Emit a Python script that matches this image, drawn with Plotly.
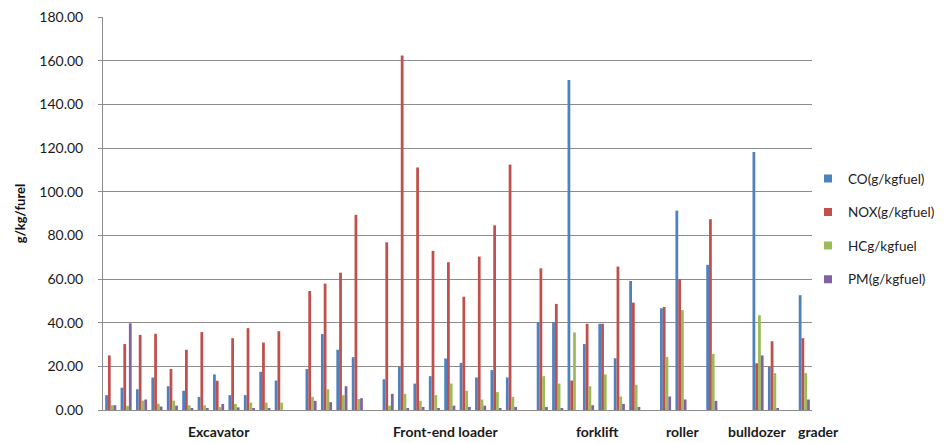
import plotly.graph_objects as go

# ---- data (one value per machine slot; None = empty slot) ----
machine_group = (["Excavator"] * 12 + [""] + ["Front-end loader"] * 4 + [""] +
                 ["Front-end loader"] * 9 + [""] + ["forklift"] * 7 + [""] +
                 ["roller"] * 2 + [""] + ["roller"] + ["", ""] +
                 ["bulldozer"] * 2 + [""] + ["grader"])

co = [6.8, 10.2, 9.5, 14.9, 10.9, 8.8, 6.0, 16.3, 6.8, 6.8, 17.5, 13.5, None,
      18.8, 34.8, 27.6, 24.2, None,
      14.1, 19.8, 12.1, 15.5, 23.6, 21.6, 14.9, 18.3, 14.9, None,
      40.3, 40.3, 151.2, 30.2, 39.5, 23.7, 59.1, None,
      46.6, 91.3, None, 66.5, None, None,
      118.2, 19.8, None, 52.6]
nox = [25.0, 30.2, 34.4, 34.9, 18.8, 27.6, 35.7, 13.4, 32.9, 37.5, 30.9, 36.1, None,
       54.5, 57.9, 62.9, 89.4, None,
       76.8, 162.4, 111.1, 72.9, 67.7, 51.9, 70.3, 84.6, 112.4, None,
       64.9, 48.6, 13.5, 39.5, 39.5, 65.7, 49.2, None,
       47.2, 59.9, None, 87.4, None, None,
       21.4, 31.5, None, 32.9]
hc = [2.2, 1.9, 4.3, 2.9, 4.3, 2.2, 2.2, 1.4, 2.8, 3.4, 3.4, 3.4, None,
      6.0, 9.5, 6.8, 5.0, None,
      2.0, 7.4, 4.2, 6.8, 12.1, 8.8, 4.8, 8.2, 6.0, None,
      15.5, 12.1, 35.5, 10.9, 16.3, 6.2, 11.6, None,
      24.3, 45.8, None, 25.7, None, None,
      43.4, 16.9, None, 16.9]
pm = [2.2, 39.7, 4.8, 1.6, 2.0, 0.8, 0.9, 2.8, 1.2, 0.8, 0.8, 0.0, None,
      4.2, 3.6, 10.9, 5.4, None,
      7.4, 0.8, 1.4, 0.8, 2.0, 1.4, 2.0, 0.8, 1.4, None,
      1.4, 0.8, 0.0, 2.2, 0.0, 2.8, 1.4, None,
      6.2, 4.8, None, 4.2, None, None,
      25.0, 0.8, None, 4.8]

series_names = ["CO(g/kgfuel)", "NOX(g/kgfuel)", "HCg/kgfuel", "PM(g/kgfuel)"]
group_labels = ["Excavator", "Front-end loader", "forklift", "roller", "bulldozer", "grader"]

# ---- layout / style (kept separate from data) ----
colors = ["#4F81BD", "#C0504D", "#9BBB59", "#8064A2"]
label_slot = [7.0, 21.7, 31.6, 37.1, 41.9, 45.9]

n = len(machine_group)
x = list(range(n))

fig = go.Figure()
for name, vals, col in zip(series_names, [co, nox, hc, pm], colors):
    fig.add_bar(x=x, y=vals, name=name, marker_color=col, marker_line_width=0,
                legendgroup=name, showlegend=False)
    # legend proxy with a small square swatch, as in the reference
    fig.add_scatter(x=[None], y=[None], mode="markers", name=name,
                    legendgroup=name, showlegend=True,
                    marker=dict(symbol="square", size=8, color=col))

# The page body has an 8px margin, so the figure is drawn 8px in from the
# window's top-left corner; size and margins account for that.
OFF = 8
W, H = 944 - OFF, 443 - OFF
ml, mt = 103 - OFF, 17 - OFF
mr = W - (812 - OFF)
mb = H - (410 - OFF)
pw = W - ml - mr
ph = H - mt - mb

def px_x(p):          # window pixel -> paper x
    return (p - OFF - ml) / pw

def px_y(p):          # window pixel -> paper y
    return (H - mb - (p - OFF)) / ph

annotations = [
    dict(x=(s + 0.5) / n, y=px_y(431), xref="paper", yref="paper",
         text=f"<b>{t}</b>", showarrow=False, yanchor="middle", xanchor="center",
         font=dict(family="Lato", size=14, color="#1a1a1a"))
    for t, s in zip(group_labels, label_slot)
]

fig.update_layout(
    width=W, height=H,
    margin=dict(l=ml, r=mr, t=mt, b=mb, autoexpand=False),
    paper_bgcolor="white", plot_bgcolor="white",
    font=dict(family="Lato", size=14, color="#222222"),
    barmode="group", bargap=0.28, bargroupgap=0,
    showlegend=True,
    legend=dict(x=px_x(808), y=0.46, xanchor="left", yanchor="middle",
                font=dict(family="Lato", size=13.5, color="#222222"),
                tracegroupgap=13, bgcolor="rgba(0,0,0,0)"),
    xaxis=dict(range=[-0.5, n - 0.5], showticklabels=False,
               showgrid=False, zeroline=False, showline=True,
               linecolor="#8c8c8c", linewidth=1, ticks=""),
    yaxis=dict(range=[0, 180.02], tick0=0, dtick=20, tickformat=".2f",
               showgrid=True, gridcolor="#8c8c8c", gridwidth=1,
               zeroline=False, showline=True, linecolor="#8c8c8c", linewidth=1,
               ticks="outside", ticklen=4, tickcolor="#8c8c8c",
               ticklabelposition="outside", ticklabelstandoff=12,
               ticklabeloverflow="allow",
               tickfont=dict(family="Lato", size=14, color="#1a1a1a"),
               title=dict(text="<b>g/kg/furel</b>", standoff=10,
                          font=dict(family="Lato", size=13, color="#111111"))),
    annotations=annotations,
)

fig.write_html("out.html")
